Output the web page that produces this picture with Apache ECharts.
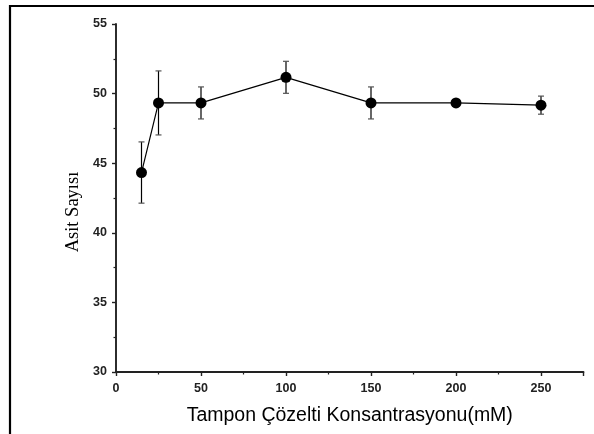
<!DOCTYPE html>
<html>
<head>
<meta charset="utf-8">
<script src="https://cdn.jsdelivr.net/npm/echarts@6/dist/echarts.min.js"></script>
<style>
  html, body { margin: 0; padding: 0; background: #fff; }
  #chart { width: 594px; height: 434px; }
</style>
</head>
<body>
<div id="chart"></div>
<script>
// Buffer concentration (mM) and the measured acid number with its error
const concentrations = [15, 25, 50, 100, 150, 200, 250];
const acidNumbers = [44.33, 49.33, 49.33, 51.17, 49.33, 49.33, 49.17];
const errors = [2.2, 2.3, 1.15, 1.15, 1.15, 0.15, 0.65];

const xTicks = [0, 50, 100, 150, 200, 250];
const yTicks = [30, 35, 40, 45, 50, 55];

const chart = echarts.init(document.getElementById('chart'));

const pointData = concentrations.map((x, i) => [x, acidNumbers[i]]);
const errorData = concentrations.map((x, i) => [x, acidNumbers[i] - errors[i], acidNumbers[i] + errors[i]]);

const axisColor = '#222';
const labelFont = { color: '#222', fontFamily: 'Liberation Sans, Arial, sans-serif', fontWeight: 'bold', fontSize: 12.5 };

chart.setOption({
  animation: false,
  backgroundColor: '#fff',
  grid: { left: 116, top: 24, right: 10.5, bottom: 62, containLabel: false },
  graphic: [{
    type: 'polyline',
    shape: { points: [[10, 440], [10, 6], [600, 6]] },
    style: { stroke: '#000', lineWidth: 2.2, fill: null }
  }],
  xAxis: {
    type: 'value',
    min: 0, max: 275, interval: 50,
    name: 'Tampon Çözelti Konsantrasyonu(mM)',
    nameLocation: 'middle',
    nameGap: 34,
    nameTextStyle: { fontFamily: 'Liberation Sans, Arial, sans-serif', fontSize: 19.5, color: '#000' },
    axisLine: { show: true, lineStyle: { color: axisColor, width: 1.9 } },
    axisTick: { show: true, inside: false, length: 4, lineStyle: { color: axisColor, width: 1.4 } },
    minorTick: { show: true, splitNumber: 2, length: 2.5, lineStyle: { color: axisColor, width: 1.2 } },
    splitLine: { show: false },
    axisLabel: Object.assign({ margin: 10, showMaxLabel: false,
      formatter: v => xTicks.includes(v) ? String(v) : '' }, labelFont)
  },
  yAxis: {
    type: 'value',
    min: 30, max: 55, interval: 5,
    name: 'Asit Sayısı',
    nameLocation: 'middle',
    nameGap: 30,
    nameRotate: 90,
    nameTextStyle: { fontFamily: 'Liberation Serif, Times New Roman, serif', fontSize: 18.5, color: '#000', padding: [0, 28, 0, 0] },
    axisLine: { show: true, lineStyle: { color: axisColor, width: 1.9 } },
    axisTick: { show: true, inside: false, length: 4, lineStyle: { color: axisColor, width: 1.4 } },
    minorTick: { show: true, splitNumber: 2, length: 2.5, lineStyle: { color: axisColor, width: 1.2 } },
    splitLine: { show: false },
    axisLabel: Object.assign({ margin: 9,
      formatter: v => yTicks.includes(v) ? String(v) : '' }, labelFont)
  },
  series: [
    {
      type: 'custom',
      data: errorData,
      z: 3,
      renderItem: function (params, api) {
        const x = api.value(0);
        const lo = api.coord([x, api.value(1)]);
        const hi = api.coord([x, api.value(2)]);
        const cap = 3;
        return {
          type: 'group',
          children: [
            { type: 'line', shape: { x1: lo[0], y1: lo[1], x2: hi[0], y2: hi[1] }, style: { stroke: '#000', lineWidth: 1.2 } },
            { type: 'line', shape: { x1: hi[0] - cap, y1: hi[1], x2: hi[0] + cap, y2: hi[1] }, style: { stroke: '#555', lineWidth: 1.2 } },
            { type: 'line', shape: { x1: lo[0] - cap, y1: lo[1], x2: lo[0] + cap, y2: lo[1] }, style: { stroke: '#555', lineWidth: 1.2 } }
          ]
        };
      }
    },
    {
      type: 'line',
      data: pointData,
      z: 4,
      symbol: 'circle',
      symbolSize: 11,
      itemStyle: { color: '#000' },
      lineStyle: { color: '#000', width: 1.2 }
    }
  ]
});
</script>
</body>
</html>
